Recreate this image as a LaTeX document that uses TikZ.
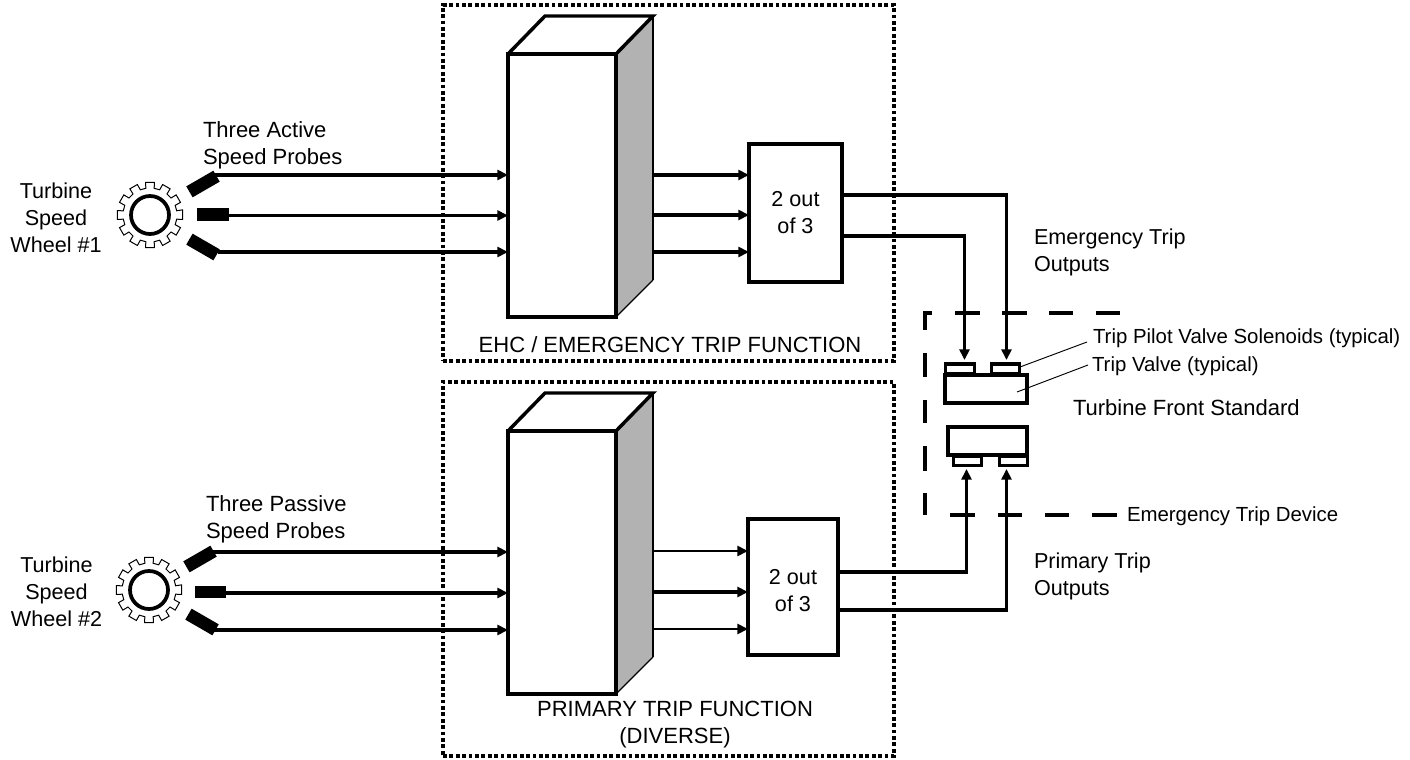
\documentclass[tikz,border=0pt]{standalone}
\usepackage{fontspec}
\setmainfont{Liberation Sans}
\usetikzlibrary{arrows.meta}
\newcommand{\gearwheel}[3]{%
  \node[ring] (#3) at (#1,#2) {};
  \draw[gearline,shift={(#1,#2)}] (-9:33)
    \foreach \a in {0,30,...,330}{ -- (\a-7.5:33) -- (\a+7.5:33) -- (\a+9:27) -- (\a+21:27)} -- cycle;
}
\tikzset{
  x=0.75pt,y=-0.75pt,
  every node/.style={font=\fontsize{16.2pt}{20.2pt}\selectfont,inner sep=0pt,outer sep=0pt},
  bigtext/.style={font=\fontsize{16.5pt}{20.2pt}\selectfont},
  smalltext/.style={font=\fontsize{15.3pt}{20pt}\selectfont},
  heavy/.style={draw=black,line width=2.9pt,fill=white},
  valvebox/.style={draw=black,line width=2.3pt,fill=white},
  panel/.style={draw=black,line width=2.8pt,dash pattern=on 2.8pt off 2pt},
  ring/.style={circle,draw=black,line width=2.8pt,minimum size=28.5pt},
  gearline/.style={draw=black,line width=0.75pt},
  probe/.style={fill=black,minimum width=23.5pt,minimum height=9.5pt},
  wire/.style={draw=black,line width=2.7pt,-{Stealth[length=8pt,width=7.5pt,inset=0pt]}},
  thinwire/.style={draw=black,line width=2.2pt,-{Stealth[length=8pt,width=7.5pt,inset=0pt]}},
  leader/.style={draw=black,line width=0.7pt},
  fence/.style={draw=black,line width=2.8pt},
  label/.style={align=center},
  leftlabel/.style={align=left,anchor=west},
}
\begin{document}
\begin{tikzpicture}
\useasboundingbox (0,0) rectangle (1410,760);
% function panels
\node[panel,minimum width=451*0.75pt,minimum height=356*0.75pt] (panelA) at (668.5,183) {};
\node[panel,minimum width=451*0.75pt,minimum height=374*0.75pt] (panelB) at (668.5,569) {};
% cabinets
\fill[black!30] (616,54) -- (653,16) -- (653,280) -- (616,317) -- cycle;
\draw[draw=black,line width=1pt] (653,280) -- (616,317);
\draw[draw=black,line width=2.6pt,fill=white] (508,54) -- (545,16) -- (653,16) -- (616,54);
\draw[black,line width=2.2pt] (653,16) -- (653,280);
\node[heavy,minimum width=108*0.75pt,minimum height=263*0.75pt] (blockA) at (562,185.5) {};
\fill[black!30] (616,431) -- (653,393) -- (653,657) -- (616,694) -- cycle;
\draw[draw=black,line width=1pt] (653,657) -- (616,694);
\draw[draw=black,line width=2.6pt,fill=white] (508,431) -- (545,393) -- (653,393) -- (616,431);
\draw[black,line width=2.2pt] (653,393) -- (653,657);
\node[heavy,minimum width=108*0.75pt,minimum height=263*0.75pt] (blockB) at (562,562.5) {};
% voters
\node[heavy,minimum width=93*0.75pt,minimum height=138*0.75pt,align=center] (voteA) at (795.5,213) {2 out\\of 3};
\node[heavy,minimum width=90*0.75pt,minimum height=136*0.75pt] (voteB) at (793,587) {};
\node[label] (voteBtext) at (793,591) {2 out\\of 3};
% gears
\gearwheel{150}{215}{gearA}
\gearwheel{149}{590}{gearB}
% probes
\node[probe,rotate=30] (pA1) at (203,184) {};
\node[probe] (pA2) at (213,214.5) {};
\node[probe,rotate=-30] (pA3) at (203,247) {};
\node[probe,rotate=30] (pB1) at (200,559) {};
\node[probe] (pB2) at (210.5,592) {};
\node[probe,rotate=-30] (pB3) at (202,622) {};
\coordinate (a1) at (215,175); \coordinate (a2) at (225,215.5); \coordinate (a3) at (218,252);
\coordinate (b1) at (212,552); \coordinate (b2) at (222,593); \coordinate (b3) at (214,630);
\draw[wire] (a1) -- (a1 -| blockA.west);
\draw[thinwire] (a2) -- (a2 -| blockA.west);
\draw[wire] (a3) -- (a3 -| blockA.west);
\draw[wire] (b1) -- (b1 -| blockB.west);
\draw[wire] (b2) -- (b2 -| blockB.west);
\draw[wire] (b3) -- (b3 -| blockB.west);
% cabinet to voter
\coordinate (ca1) at (653,175); \coordinate (ca2) at (653,215); \coordinate (ca3) at (653,252);
\coordinate (cb1) at (653,551); \coordinate (cb2) at (653,592); \coordinate (cb3) at (653,629);
\draw[wire] (ca1) -- (ca1 -| voteA.west);
\draw[wire] (ca2) -- (ca2 -| voteA.west);
\draw[wire] (ca3) -- (ca3 -| voteA.west);
\draw[thinwire] (cb1) -- (cb1 -| voteB.west);
\draw[wire] (cb2) -- (cb2 -| voteB.west);
\draw[thinwire] (cb3) -- (cb3 -| voteB.west);
% valves
\node[valvebox,minimum width=29*0.75pt,minimum height=10*0.75pt] (solA1) at (960,369) {};
\node[valvebox,minimum width=28*0.75pt,minimum height=10*0.75pt] (solA2) at (1005.5,369) {};
\node[heavy,minimum width=82*0.75pt,minimum height=28*0.75pt] (valveA) at (986,389) {};
\node[heavy,minimum width=79*0.75pt,minimum height=28*0.75pt] (valveB) at (987.5,441) {};
\node[valvebox,minimum width=28*0.75pt,minimum height=9*0.75pt] (solB1) at (967.5,461) {};
\node[valvebox,minimum width=28*0.75pt,minimum height=9*0.75pt] (solB2) at (1013.5,461) {};
% outputs
\coordinate (oa1) at (842,195); \coordinate (oa2) at (842,236);
\coordinate (ob1) at (838,572); \coordinate (ob2) at (838,610);
\coordinate (ina1) at (964.5,360); \coordinate (ina2) at (1006.5,360);
\coordinate (inb1) at (966.5,469); \coordinate (inb2) at (1006.5,469);
\draw[wire,line width=2.4pt] (oa1) -| (ina2);
\draw[wire,line width=2.4pt] (oa2) -| (ina1);
\draw[wire,line width=2.4pt] (ob1) -| (inb1);
\draw[wire,line width=2.4pt] (ob2) -| (inb2);
% front standard dashed outline
\draw[fence] (932,313) -- (925,313) -- (925,330);
\draw[fence] (955,313) -- (980,313);
\draw[fence] (1002,313) -- (1027,313);
\draw[fence] (1049,313) -- (1073,313);
\draw[fence] (1096,313) -- (1120,313);
\draw[fence] (925,353) -- (925,377);
\draw[fence] (925,400) -- (925,423);
\draw[fence] (925,446) -- (925,471);
\draw[fence] (925,493) -- (925,515);
\draw[fence] (950,515) -- (975,515);
\draw[fence] (998,515) -- (1022,515);
\draw[fence] (1045,515) -- (1069,515);
\draw[fence] (1092,515) -- (1117,515);
% labels
\node[label] (tA) at (56,218) {Turbine\\Speed\\Wheel \#1};
\node[label] (tB) at (56.5,592) {Turbine\\Speed\\Wheel \#2};
\node[leftlabel,bigtext] (lA) at (203,145.5) {Three Active\\Speed Probes};
\node[leftlabel,bigtext] (lB) at (206,519) {Three Passive\\Speed Probes};
\node[label,bigtext] (nA) at (670,345) {EHC / EMERGENCY TRIP FUNCTION};
\node[label,bigtext] (nB) at (675,725) {PRIMARY TRIP FUNCTION\\(DIVERSE)};
\node[leftlabel] (lE) at (1034,252) {Emergency Trip\\Outputs};
\node[leftlabel] (lP) at (1034,576) {Primary Trip\\Outputs};
\node[leftlabel,smalltext] (lS) at (1093,338) {Trip Pilot Valve Solenoids (typical)};
\node[leftlabel,smalltext] (lV) at (1092,366) {Trip Valve (typical)};
\node[leftlabel,bigtext] (lF) at (1073,408) {Turbine Front Standard};
\node[leftlabel,smalltext] (lD) at (1127,516) {Emergency Trip Device};
\coordinate (endS) at (1020,367); \coordinate (endV) at (1017,392);
\draw[leader] (lS.west) ++(-6,4) -- (endS);
\draw[leader] (lV.west) ++(-4,-1) -- (endV);
\end{tikzpicture}
\end{document}
